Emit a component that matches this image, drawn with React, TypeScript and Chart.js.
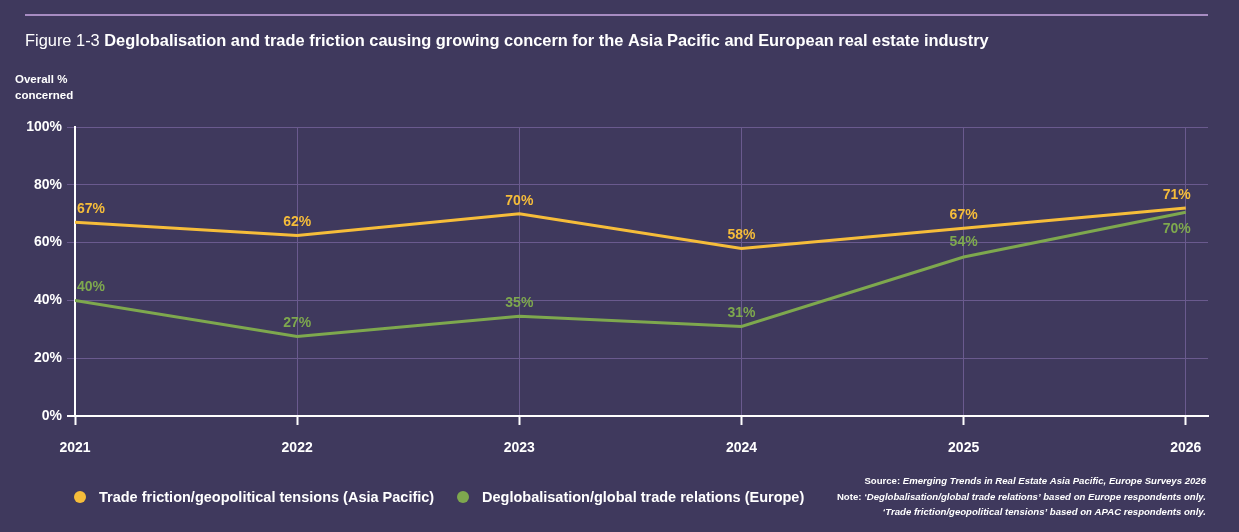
import React, { useEffect, useRef } from "react";
import { Chart, registerables } from "chart.js";

Chart.register(...registerables);

const years = [2021, 2022, 2023, 2024, 2025, 2026];
const apacValues = [67, 62.5, 70, 58, 65, 72];
const apacLabels = ["67%", "62%", "70%", "58%", "67%", "71%"];
const europeValues = [40, 27.5, 34.5, 31, 55, 70.5];
const europeLabels = ["40%", "27%", "35%", "31%", "54%", "70%"];
const yTicks = [0, 20, 40, 60, 80, 100];

const seriesNames = [
  "Trade friction/geopolitical tensions (Asia Pacific)",
  "Deglobalisation/global trade relations (Europe)",
];
const titleLead = "Figure 1-3 ";
const titleMain = "Deglobalisation and trade friction causing growing concern for the Asia Pacific and European real estate industry";
const yTitle = ["Overall %", "concerned"];
const sourceLead = "Source: ";
const sourceText = "Emerging Trends in Real Estate Asia Pacific, Europe Surveys 2026";
const noteLead = "Note: ";
const note1 = "\u2018Deglobalisation/global trade relations\u2019 based on Europe respondents only.";
const note2 = "\u2018Trade friction/geopolitical tensions\u2019 based on APAC respondents only.";

const BG = "#3f395d";
const YELLOW = "#f6bd3a";
const GREEN = "#7ea84e";
const GRID = "#6a5a8e";
const RULE = "#a78cc2";
const FONT = "'Liberation Sans', Arial, Helvetica, sans-serif";

const decorPlugin = {
  id: "decor",
  beforeDraw(chart: any) {
    const ctx = chart.ctx;
    ctx.save();
    ctx.fillStyle = BG;
    ctx.fillRect(0, 0, chart.width, chart.height);
    ctx.restore();
  },
  afterDraw(chart: any) {
    const ctx = chart.ctx;
    ctx.save();
    // top rule
    ctx.strokeStyle = RULE;
    ctx.lineWidth = 2;
    ctx.beginPath();
    ctx.moveTo(25, 15);
    ctx.lineTo(1208, 15);
    ctx.stroke();

    // title
    ctx.fillStyle = "#ffffff";
    ctx.textBaseline = "middle";
    ctx.textAlign = "left";
    ctx.font = `16.4px ${FONT}`;
    ctx.fillText(titleLead, 25, 41);
    const w0 = ctx.measureText(titleLead).width;
    ctx.font = `bold 16.4px ${FONT}`;
    ctx.fillText(titleMain, 25 + w0, 41);

    // y title
    ctx.font = `bold 11.5px ${FONT}`;
    ctx.fillText(yTitle[0], 15, 80);
    ctx.fillText(yTitle[1], 15, 96);

    // data labels
    ctx.font = `bold 14px ${FONT}`;
    const labelSets = [apacLabels, europeLabels];
    const colors = [YELLOW, GREEN];
    chart.data.datasets.forEach((ds: any, di: number) => {
      const meta = chart.getDatasetMeta(di);
      meta.data.forEach((pt: any, i: number) => {
        const last = i === meta.data.length - 1;
        let x = pt.x;
        let y = pt.y - 13;
        ctx.textAlign = "center";
        if (i === 0) {
          ctx.textAlign = "left";
          x = pt.x + 2;
        } else if (last) {
          ctx.textAlign = "right";
          x = pt.x + 5;
        }
        if (last && di === 1) y = pt.y + 17;
        if (!last && di === 1 && i === 4) y = pt.y - 15;
        ctx.fillStyle = colors[di];
        ctx.fillText(labelSets[di][i], x, y);
      });
    });

    // legend
    ctx.font = `bold 14.5px ${FONT}`;
    ctx.textAlign = "left";
    const legendX = [80, 463];
    chart.data.datasets.forEach((ds: any, di: number) => {
      ctx.fillStyle = ds.borderColor;
      ctx.beginPath();
      ctx.arc(legendX[di], 497, 6, 0, Math.PI * 2);
      ctx.fill();
      ctx.fillStyle = "#ffffff";
      ctx.fillText(ds.label, legendX[di] + 19, 498);
    });

    // footnotes (right aligned)
    const right = 1206;
    const drawLine = (lead: string, body: string, y: number) => {
      ctx.font = `italic bold 9.6px ${FONT}`;
      const wb = ctx.measureText(body).width;
      ctx.textAlign = "left";
      ctx.fillText(body, right - wb, y);
      if (lead) {
        ctx.font = `bold 9.6px ${FONT}`;
        const wl = ctx.measureText(lead).width;
        ctx.fillText(lead, right - wb - wl, y);
      }
    };
    ctx.fillStyle = "#ffffff";
    drawLine(sourceLead, sourceText, 481);
    drawLine(noteLead, note1, 497);
    drawLine("", note2, 512);
    ctx.restore();
  },
};

export default function App() {
  const ref = useRef<HTMLCanvasElement | null>(null);
  useEffect(() => {
    document.body.style.margin = "0";
    document.body.style.background = BG;
    const canvas = ref.current;
    if (!canvas) return;
    const chart = new Chart(canvas, {
      type: "line",
      data: {
        datasets: [
          {
            label: seriesNames[0],
            data: years.map((y, i) => ({ x: y, y: apacValues[i] })),
            borderColor: YELLOW,
            backgroundColor: YELLOW,
            borderWidth: 3,
            pointRadius: 0,
            tension: 0,
          },
          {
            label: seriesNames[1],
            data: years.map((y, i) => ({ x: y, y: europeValues[i] })),
            borderColor: GREEN,
            backgroundColor: GREEN,
            borderWidth: 3,
            pointRadius: 0,
            tension: 0,
          },
        ],
      },
      plugins: [decorPlugin],
      options: {
        responsive: false,
        animation: false,
        events: [],
        layout: { padding: { top: 127, left: 0, right: 31, bottom: 66 } },
        plugins: {
          legend: { display: false },
          tooltip: { enabled: false },
          title: { display: false },
        },
        scales: {
          x: {
            type: "linear",
            min: years[0],
            max: 2026.1,
            afterFit: (s: any) => {
              s.height = 50;
            },
            afterBuildTicks: (s: any) => {
              s.ticks = years.map((v) => ({ value: v }));
            },
            ticks: {
              color: "#ffffff",
              font: { family: FONT, size: 14, weight: "bold" },
              padding: 15,
              callback: (v: any) => String(v),
              maxRotation: 0,
            },
            grid: {
              color: GRID,
              tickColor: "#ffffff",
              tickLength: 9,
              lineWidth: 1,
              tickWidth: 2,
            },
            border: { color: "#ffffff", width: 2 },
          },
          y: {
            min: 0,
            max: 100,
            afterFit: (s: any) => {
              s.width = 75;
            },
            afterBuildTicks: (s: any) => {
              s.ticks = yTicks.map((v) => ({ value: v }));
            },
            ticks: {
              color: "#ffffff",
              font: { family: FONT, size: 14, weight: "bold" },
              padding: 5,
              callback: (v: any) => v + "%",
            },
            grid: {
              color: (c: any) => (c.tick && c.tick.value === 0 ? "#ffffff" : GRID),
              tickColor: (c: any) => (c.tick && c.tick.value === 0 ? "#ffffff" : GRID),
              tickLength: 8,
              lineWidth: (c: any) => (c.tick && c.tick.value === 0 ? 2 : 1),
            },
            border: { color: "#ffffff", width: 2 },
          },
        },
      },
    } as any);
    return () => chart.destroy();
  }, []);
  return (
    <div style={{ position: "absolute", left: 0, top: 0, width: 1239, height: 532, background: BG }}>
      <canvas ref={ref} width={1239} height={532} style={{ width: 1239, height: 532, display: "block" }} />
    </div>
  );
}
